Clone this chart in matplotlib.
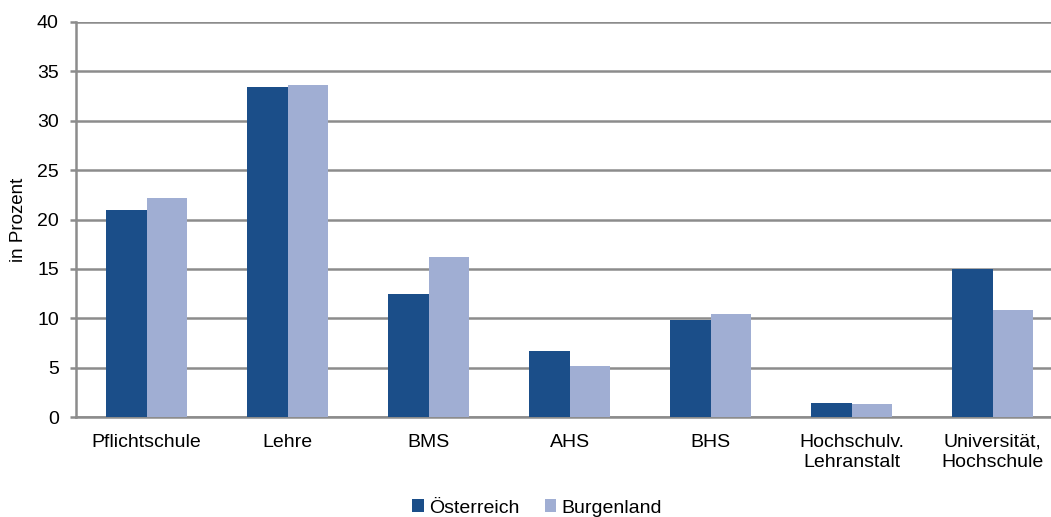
import matplotlib
matplotlib.use('Agg')
import matplotlib.pyplot as plt
import numpy as np

plt.rcParams['font.family'] = ['Liberation Sans', 'DejaVu Sans']

categories = ['Pflichtschule', 'Lehre', 'BMS', 'AHS', 'BHS',
              'Hochschulv.\nLehranstalt', 'Universität,\nHochschule']
oesterreich = [21.0, 33.4, 12.5, 6.7, 9.8, 1.4, 15.0]
burgenland = [22.2, 33.6, 16.2, 5.2, 10.4, 1.3, 10.8]

c_dark = '#1b4e89'
c_light = '#a0aed3'
grid_c = '#8c8c8c'

W, H = 1051, 517
fig = plt.figure(figsize=(W/100, H/100), dpi=100)
# axes run a little past the right edge of the picture, as in the source
left, right, top, bottom = 76.2, 1063.2, 21.7, 417.3
ax = fig.add_axes([left/W, 1 - bottom/H, (right-left)/W, (bottom-top)/H])

x = np.arange(len(categories))
w = 0.286
ax.bar(x - w/2, oesterreich, w, color=c_dark, label='Österreich', zorder=3)
ax.bar(x + w/2, burgenland, w, color=c_light, label='Burgenland', zorder=3)

ax.set_xlim(-0.5, len(categories) - 0.5)
ax.set_ylim(0, 40)
ax.set_yticks(range(0, 41, 5))
ax.yaxis.grid(True, color=grid_c, linewidth=1.8, zorder=0)
ax.set_axisbelow(True)
for s in ['top', 'right']:
    ax.spines[s].set_visible(False)
for s in ['left', 'bottom']:
    ax.spines[s].set_color(grid_c)
    ax.spines[s].set_linewidth(1.8)
ax.tick_params(axis='y', length=4.5, width=1.8, color=grid_c, labelsize=14, pad=8)
ax.tick_params(axis='x', length=0, labelsize=14, pad=12)
ax.set_xticks(x)
ax.set_xticklabels(categories, linespacing=1.25)
ax.set_ylabel('in Prozent', fontsize=13.5, labelpad=7)

# legend placed in figure coords, centred under the plot
fig.legend(loc='center', bbox_to_anchor=(537/W, 1 - 508/H), ncol=2, frameon=False,
           fontsize=14, handlelength=0.6, handleheight=0.6, handletextpad=0.25,
           columnspacing=1.3, borderaxespad=0)

fig.savefig('out.png', dpi=100)
